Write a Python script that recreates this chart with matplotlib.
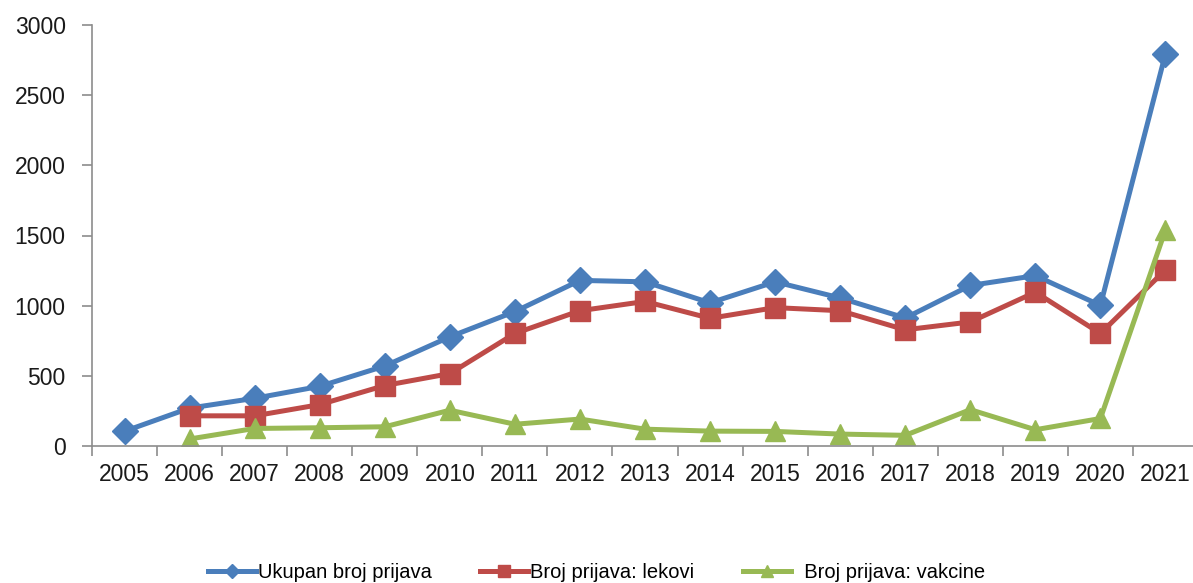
import numpy as np
import matplotlib.pyplot as plt

plt.rcParams['font.family'] = ['Liberation Sans', 'DejaVu Sans']

godine = ['2005', '2006', '2007', '2008', '2009', '2010', '2011', '2012', '2013',
          '2014', '2015', '2016', '2017', '2018', '2019', '2020', '2021']
ukupno = [105, 270, 340, 425, 570, 778, 958, 1180, 1170,
          1020, 1170, 1055, 912, 1144, 1214, 1002, 2795]
lekovi = [np.nan, 215, 215, 295, 431, 516, 802, 964, 1030,
          910, 986, 964, 828, 884, 1096, 802, 1255]
vakcine = [np.nan, 50, 125, 130, 137, 255, 155, 192, 120,
           106, 104, 85, 76, 259, 116, 196, 1540]

x = np.arange(len(godine))

fig = plt.figure(figsize=(11.93, 5.83), dpi=100)
ax = fig.add_axes([92 / 1193, 137 / 583, 1106 / 1193, 421 / 583])

ax.plot(x, ukupno, color='#4A7EBB', lw=3.6, marker='D', ms=13.5,
        label='Ukupan broj prijava')
ax.plot(x, lekovi, color='#BE4B48', lw=3.6, marker='s', ms=15,
        label='Broj prijava: lekovi')
ax.plot(x, vakcine, color='#98B954', lw=3.6, marker='^', ms=15,
        label='  Broj prijava: vakcine')

ax.set_xlim(-0.5, len(godine) - 0.5)
ax.set_ylim(0, 3000)
ax.set_yticks(np.arange(0, 3001, 500))
ax.set_xticks(x)
ax.set_xticklabels(godine)
ax.set_xticks(np.arange(-0.5, len(godine), 1), minor=True)

for s in ['top', 'right']:
    ax.spines[s].set_visible(False)
for s in ['left', 'bottom']:
    ax.spines[s].set_color('#8C8C8C')
    ax.spines[s].set_linewidth(1.2)

ax.tick_params(axis='y', length=7, width=1.2, color='#8C8C8C', pad=12,
               labelsize=16.5, labelcolor='#1a1a1a')
ax.tick_params(axis='x', which='major', length=0, pad=12,
               labelsize=16.5, labelcolor='#1a1a1a')
ax.tick_params(axis='x', which='minor', length=7, width=1.2, color='#8C8C8C')

fig.legend(loc='center', bbox_to_anchor=(0.5, 0.018), ncol=3, frameon=False,
           fontsize=14.5, markerscale=0.55, handlelength=2.4, handletextpad=0.1,
           columnspacing=2.4)

fig.savefig('out.png', dpi=100)
